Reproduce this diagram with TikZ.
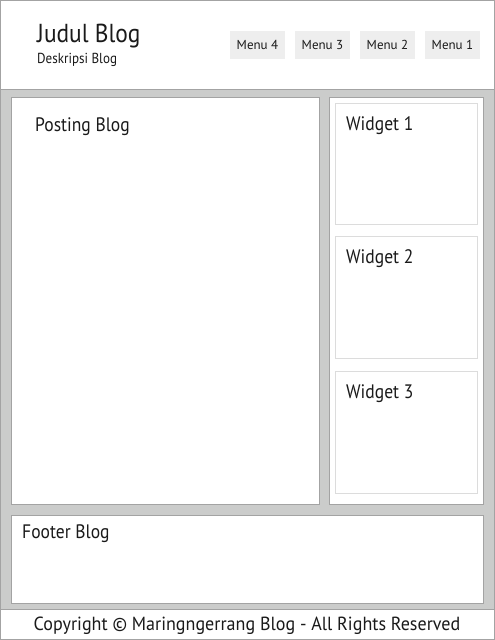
\documentclass[tikz,border=0pt]{standalone}
\usepackage{fontspec}
\setmainfont{PT Sans}
\newfontfamily\narrowfont[FakeStretch=0.9]{PT Sans}
\newfontfamily\semifont[FakeStretch=0.95]{PT Sans}
\definecolor{bggray}{HTML}{CBCCCB}
\definecolor{boxline}{HTML}{A3A3A3}
\definecolor{wline}{HTML}{DCDCDC}
\definecolor{menufill}{HTML}{EEEEEE}
\definecolor{txt}{HTML}{1A1A1A}
\tikzset{
  panel/.style={draw=boxline, fill=white, line width=1pt},
  widgetbox/.style={draw=wline, fill=white, line width=1pt},
  menubox/.style={fill=menufill, draw=none, minimum width=55pt, minimum height=28pt, inner sep=0pt, font=\fontsize{13}{15}\selectfont, text=txt},
  lbl/.style={anchor=base west, inner sep=0pt, text=txt},
}
\begin{document}
\begin{tikzpicture}[x=1pt,y=-1pt]
\useasboundingbox (0,0) rectangle (495,640);
% header
\draw[panel] (0.5,0.5) rectangle (494.5,89);
% gray body
\draw[draw=boxline, fill=bggray, line width=1pt] (0.5,89) rectangle (494.5,609);
% copyright bar
\draw[panel] (0.5,609) rectangle (494.5,639.5);
% post
\draw[panel] (11,97) rectangle (319,504.5);
% sidebar
\draw[panel] (329,97) rectangle (483,504.5);
\draw[widgetbox] (335,103) rectangle (477,224);
\draw[widgetbox] (335,236) rectangle (477,358);
\draw[widgetbox] (335,371) rectangle (477,493);
% footer
\draw[panel] (11,515) rectangle (483,603);
% menus
\node[menubox] (m4) at (257.5,45) {Menu 4};
\node[menubox] (m3) at (322.5,45) {Menu 3};
\node[menubox] (m2) at (387.5,45) {Menu 2};
\node[menubox] (m1) at (452.5,45) {Menu 1};
% texts
\node[lbl, font=\narrowfont\fontsize{26}{30}\selectfont] (title) at (37,42) {Judul Blog};
\node[lbl, font=\narrowfont\fontsize{14.5}{17}\selectfont] (desc) at (37,63) {Deskripsi Blog};
\node[lbl, font=\narrowfont\fontsize{19.5}{23}\selectfont] (post) at (35,131) {Posting Blog};
\node[lbl, font=\narrowfont\fontsize{19.5}{23}\selectfont] (w1) at (346,130) {Widget 1};
\node[lbl, font=\narrowfont\fontsize{19.5}{23}\selectfont] (w2) at (346,263) {Widget 2};
\node[lbl, font=\narrowfont\fontsize{19.5}{23}\selectfont] (w3) at (346,398) {Widget 3};
\node[lbl, font=\narrowfont\fontsize{19.5}{23}\selectfont] (foot) at (22,538) {Footer Blog};
\node[anchor=base, inner sep=0pt, text=txt, font=\semifont\fontsize{19}{23}\selectfont] (copy) at (247,630) {Copyright © Maringngerrang Blog - All Rights Reserved};
\end{tikzpicture}
\end{document}
